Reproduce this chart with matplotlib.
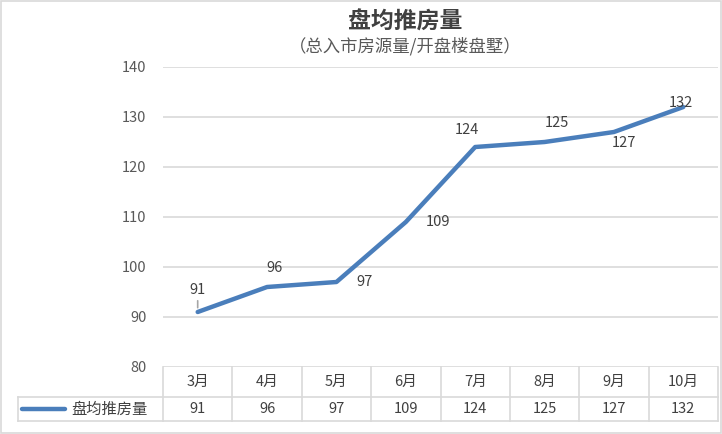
import matplotlib.pyplot as plt
from matplotlib.patches import Rectangle

plt.rcParams['font.family'] = ['Noto Sans CJK SC', 'DejaVu Sans']

months = ["3月", "4月", "5月", "6月", "7月", "8月", "9月", "10月"]
values = [91, 96, 97, 109, 124, 125, 127, 132]
series_name = "盘均推房量"
title = "盘均推房量"
subtitle = "（总入市房源量/开盘楼盘墅）"

# label offsets in points (x, y) relative to each point
label_offsets = [(0, 16), (5, 14), (20, 0), (23, 0), (-6, 12), (9, 14), (7, -8), (-2, 3)]

LINE_COLOR = "#4a7ebb"
GRID = "#d9d9d9"
TEXT = "#404040"
fig = plt.figure(figsize=(7.22, 4.34), dpi=100)
fig.add_artist(Rectangle((0.001, 0.002), 0.997, 0.996, transform=fig.transFigure,
                         fill=False, edgecolor=GRID, linewidth=1.2))

ax = fig.add_axes([163 / 722, 67 / 434, 555 / 722, 300 / 434])
x = list(range(len(months)))
ax.plot(x, values, color=LINE_COLOR, linewidth=3.2, solid_capstyle="round", zorder=3)
ax.set_xlim(-0.5, len(months) - 0.5)
ax.set_ylim(80, 140)
ax.set_yticks(range(80, 141, 10))
ax.yaxis.grid(True, color=GRID, linewidth=1.2)
ax.set_axisbelow(True)
for s in ax.spines.values():
    s.set_visible(False)
ax.tick_params(axis="y", length=0, pad=12, labelsize=10.5, labelcolor="#595959")
ax.tick_params(axis="x", length=0, labelbottom=False)

for i, v in enumerate(values):
    dx, dy = label_offsets[i]
    ax.annotate(str(v), (i, v), xytext=(dx, dy), textcoords="offset points",
                ha="center", va="center", fontsize=10.5, color=TEXT, zorder=4)
# leader line for the first label
ax.annotate("", (0, values[0] + 0.3), xytext=(0, 9), textcoords="offset points",
            arrowprops=dict(arrowstyle="-", color="#a6a6a6", lw=1.2))

# data table below the axis
tr = ax.get_xaxis_transform()
y_mid, y_bot = -0.1, -0.18
left = -0.5 - 145 / 69.375
n = len(months)
kw = dict(color=GRID, linewidth=1.2, transform=tr, clip_on=False)
ax.plot([left, n - 0.5], [y_mid, y_mid], **kw)
ax.plot([left, n - 0.5], [y_bot, y_bot], **kw)
ax.plot([left, left], [y_mid, y_bot], **kw)
for b in range(n + 1):
    ax.plot([b - 0.5, b - 0.5], [0, y_bot], **kw)
for i, m in enumerate(months):
    ax.text(i, y_mid / 2, m, transform=tr, ha="center", va="center", fontsize=10.5, color=TEXT)
    ax.text(i, (y_mid + y_bot) / 2, str(values[i]), transform=tr, ha="center", va="center",
            fontsize=10.5, color=TEXT)
lx0 = left + 4 / 69.375
ax.plot([lx0, lx0 + 43 / 69.375], [(y_mid + y_bot) / 2] * 2, color=LINE_COLOR, linewidth=3.2,
        solid_capstyle="round", transform=tr, clip_on=False)
ax.text(lx0 + 49 / 69.375, (y_mid + y_bot) / 2, series_name, transform=tr, ha="left",
        va="center", fontsize=11, color=TEXT)

fig.text(405 / 722, 1 - 22 / 434, title, ha="center", va="center", fontsize=16.5,
         fontweight="bold", color=TEXT)
fig.text(405 / 722, 1 - 46 / 434, subtitle, ha="center", va="center", fontsize=12.5,
         color="#595959")

fig.savefig("out.png", dpi=100)
